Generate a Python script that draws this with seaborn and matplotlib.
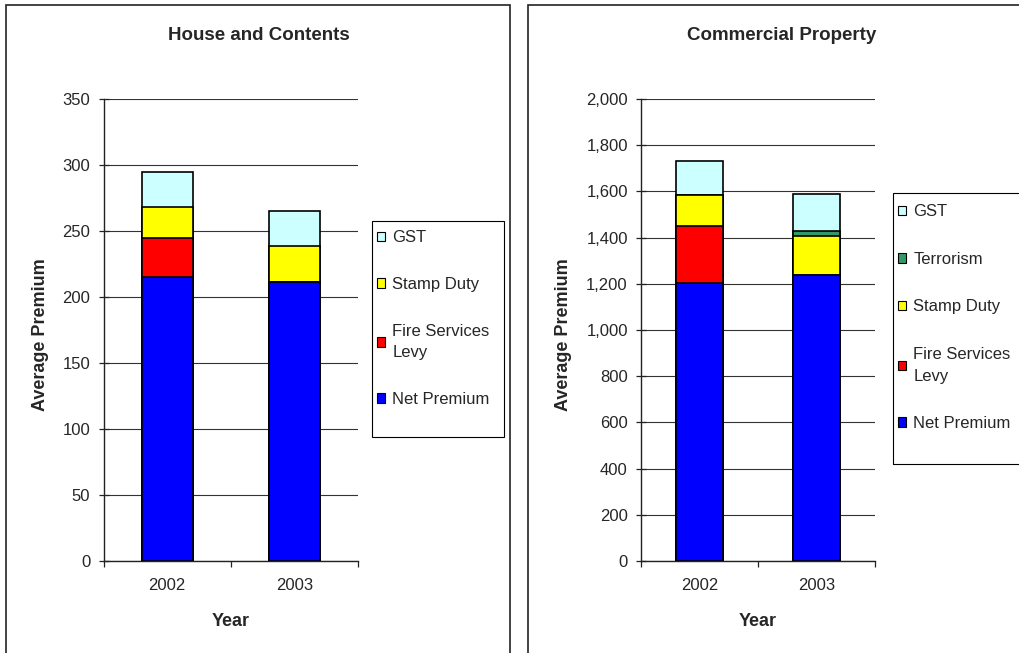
import matplotlib
matplotlib.use("Agg")
import matplotlib.pyplot as plt
import seaborn as sns
import pandas as pd
import numpy as np
from matplotlib.patches import Rectangle, Patch
from matplotlib.ticker import FixedLocator, FuncFormatter

# ---- data -------------------------------------------------------------
years = ["2002", "2003"]

# House and Contents premium components
hc_net = [215, 211]
hc_fire = [30, 0]
hc_stamp = [23, 27.5]
hc_gst = [27, 27]

# Commercial Property premium components
cp_net = [1205, 1240]
cp_fire = [245, 0]
cp_stamp = [135, 167]
cp_terror = [0, 22]
cp_gst = [145, 158]

colors = {
    "GST": "#CCFFFF",
    "Terrorism": "#339966",
    "Stamp Duty": "#FFFF00",
    "Fire Services\nLevy": "#FF0000",
    "Net Premium": "#0000FF",
}

# ---- style ------------------------------------------------------------
sns.set_theme(style="white")
plt.rcParams["font.family"] = ["Liberation Sans", "DejaVu Sans"]

W, H = 1019, 653
fig = plt.figure(figsize=(W / 100, H / 100), dpi=100)
fig.patch.set_facecolor("white")


def fx(px):
    return px / W


def fy(py):
    return 1 - py / H


def stacked(ax, layers, width):
    """Draw stacked bars by overlaying cumulative totals, tallest first."""
    cum = np.zeros(len(years))
    tops = []
    for name, vals in layers:
        cum = cum + np.asarray(vals, dtype=float)
        tops.append((name, cum.copy()))
    for name, top in reversed(tops):
        df = pd.DataFrame({"Year": years, "Premium": top})
        sns.barplot(data=df, x="Year", y="Premium", color=colors[name],
                    saturation=1, width=width, edgecolor="black",
                    linewidth=1.2, errorbar=None, ax=ax, zorder=3)


def style_axes(ax, ymax, step, fmt=None):
    ax.set_xlim(-0.5, 1.5)
    ax.set_ylim(0, ymax)
    ax.set_yticks(np.arange(0, ymax + 1, step))
    if fmt is not None:
        ax.yaxis.set_major_formatter(fmt)
    ax.yaxis.grid(True, color="#333333", linewidth=0.8, zorder=0)
    ax.xaxis.grid(False)
    for s in ("top", "right"):
        ax.spines[s].set_visible(False)
    for s in ("left", "bottom"):
        ax.spines[s].set_color("#222222")
        ax.spines[s].set_linewidth(1.0)
    ax.tick_params(axis="y", direction="inout", length=7, width=0.9,
                   color="#222222", labelsize=12, pad=6, left=True)
    ax.set_xticks([0, 1])
    ax.set_xticklabels(years)
    ax.tick_params(axis="x", which="major", length=0, labelsize=12, pad=12)
    ax.xaxis.set_minor_locator(FixedLocator([-0.5, 0.5, 1.5]))
    ax.tick_params(axis="x", which="minor", direction="out", length=4,
                   width=0.9, color="#222222", bottom=True)
    ax.set_xlabel("Year", fontsize=13, fontweight="bold")
    ax.set_ylabel("Average Premium", fontsize=13, fontweight="bold")
    ax.xaxis.label.set_va("center")
    ax.yaxis.label.set_va("center")
    ax.set_facecolor("white")


ax_top, ax_bot = 99, 561

# ---- House and Contents ----------------------------------------------
ax1 = fig.add_axes([fx(103.5), fy(ax_bot), fx(358 - 103.5), (ax_bot - ax_top) / H])
stacked(ax1, [("Net Premium", hc_net), ("Fire Services\nLevy", hc_fire),
              ("Stamp Duty", hc_stamp), ("GST", hc_gst)], width=0.4)
style_axes(ax1, 350, 50)
ax1.xaxis.set_label_coords(0.5, -(622 - ax_bot) / (ax_bot - ax_top))
ax1.yaxis.set_label_coords((41 - 103.5) / (358 - 103.5), 0.49)

# ---- Commercial Property ---------------------------------------------
ax2 = fig.add_axes([fx(641), fy(ax_bot), fx(875 - 641), (ax_bot - ax_top) / H])
stacked(ax2, [("Net Premium", cp_net), ("Fire Services\nLevy", cp_fire),
              ("Stamp Duty", cp_stamp), ("Terrorism", cp_terror),
              ("GST", cp_gst)], width=0.41)
style_axes(ax2, 2000, 200, FuncFormatter(lambda v, p: f"{v:,.0f}"))
ax2.xaxis.set_label_coords(0.5, -(622 - ax_bot) / (ax_bot - ax_top))
ax2.yaxis.set_label_coords((563 - 641) / (875 - 641), 0.49)

# ---- titles -------------------------------------------------------------
fig.text(fx(258.5), fy(35), "House and Contents", ha="center", va="center",
         fontsize=13.5, fontweight="bold")
fig.text(fx(782), fy(35), "Commercial Property", ha="center", va="center",
         fontsize=13.5, fontweight="bold")

# ---- panel borders ----------------------------------------------------
for x0, x1 in ((6, 510), (528, 1040)):
    fig.patches.append(Rectangle((fx(x0), -0.1), fx(x1 - x0), fy(5) + 0.1,
                                 transform=fig.transFigure, fill=False,
                                 edgecolor="#222222", linewidth=1.2))

# ---- legends ------------------------------------------------------------
def add_legend(ax, names, x_px, top_px, spacing, box):
    handles = [Patch(facecolor=colors[n], edgecolor="black", linewidth=0.8,
                     label=n) for n in names]
    leg = ax.legend(handles=handles, loc="upper left",
                    bbox_to_anchor=(fx(x_px), fy(top_px)),
                    bbox_transform=fig.transFigure, frameon=False, fontsize=12,
                    handlelength=0.5, handleheight=0.5, handletextpad=0.45,
                    labelspacing=spacing, borderpad=0, borderaxespad=0)
    for t in leg.get_texts():
        t.set_linespacing(1.55)
    bx0, by0, bx1, by1 = box
    fig.patches.append(Rectangle((fx(bx0), fy(by1)), fx(bx1 - bx0),
                                 (by1 - by0) / H, transform=fig.transFigure,
                                 fill=False, edgecolor="black", linewidth=0.8))


add_legend(ax1, ["GST", "Stamp Duty", "Fire Services\nLevy", "Net Premium"],
           376.5, 230.5, 1.9, (372, 221, 504, 437))
add_legend(ax2, ["GST", "Terrorism", "Stamp Duty", "Fire Services\nLevy",
                 "Net Premium"],
           897.5, 204.5, 1.95, (893, 193, 1040, 464))

fig.savefig("out.png", dpi=100, facecolor="white")
